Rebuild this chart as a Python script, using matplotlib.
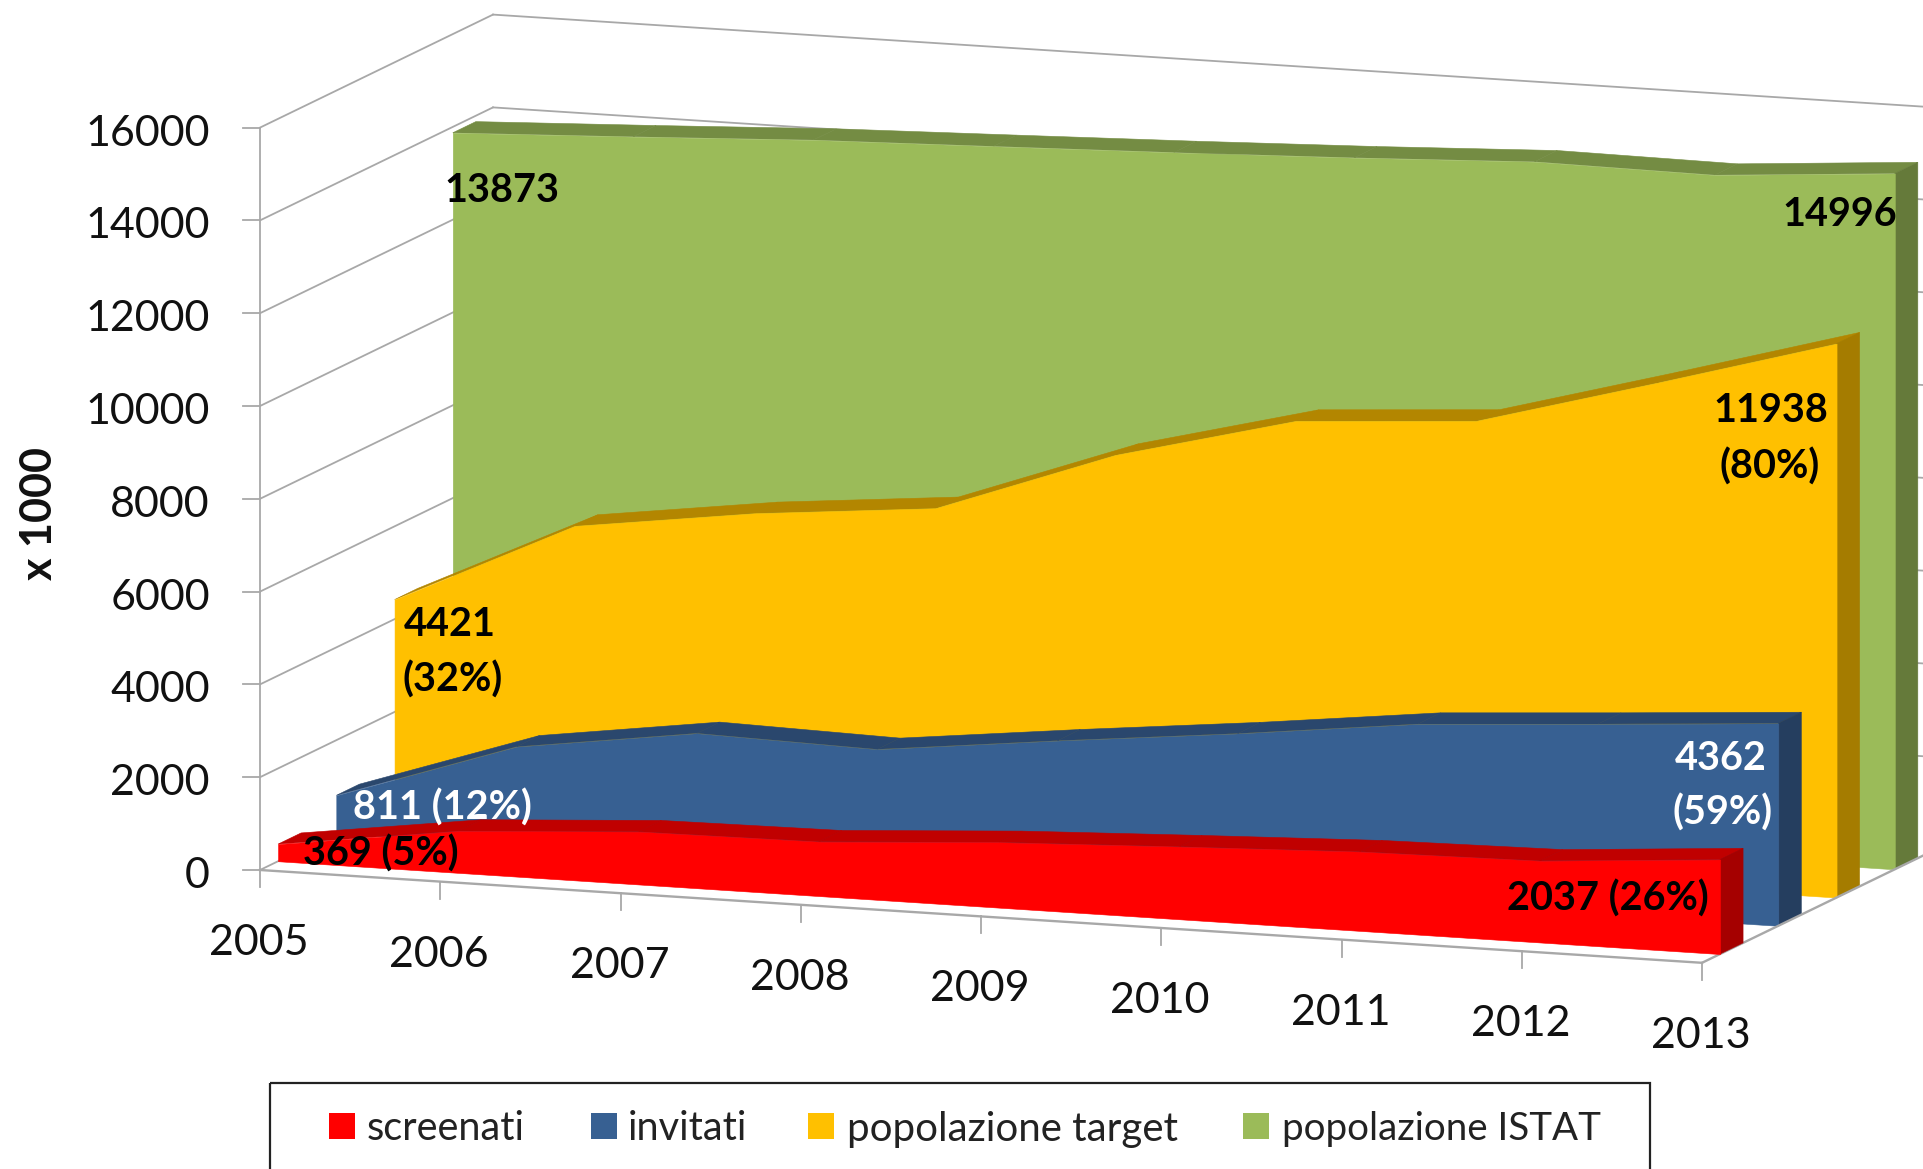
import numpy as np
import matplotlib
matplotlib.use("Agg")
import matplotlib.pyplot as plt
from matplotlib.patches import Rectangle
from matplotlib.transforms import Affine2D

# ---------- data ----------
years = [2005, 2006, 2007, 2008, 2009, 2010, 2011, 2012, 2013]
screenati = [369, 903, 1138, 1172, 1409, 1565, 1707, 1760, 2037]
invitati = [811, 2110, 2649, 2554, 2990, 3394, 3849, 4099, 4362]
pop_target = [4421, 6259, 6782, 7140, 8539, 9521, 9772, 10840, 11938]
pop_istat = [13873, 14039, 14218, 14332, 14450, 14586, 14750, 14713, 14996]
series_names = ["screenati", "invitati", "popolazione target", "popolazione ISTAT"]
y_ticks = [0, 2000, 4000, 6000, 8000, 10000, 12000, 14000, 16000]

face_colors = ["#FF0000", "#376092", "#FFC000", "#9BBB59"]
top_colors = ["#C00000", "#2A476D", "#B38600", "#748C43"]
side_colors = ["#A50000", "#253E5F", "#A57C00", "#657A3A"]
GRID = "#A8A8A8"
FONT = "Lato"

# ---------- oblique projection of the 3-D chart box ----------
ORIGIN = np.array([260.0, 870.0])      # pixel of (2005, 0, depth 0)
E_YEAR = np.array([180.25, 11.6])      # per year
E_VALUE = np.array([0.0, -0.0464])     # per unit of value
E_DEPTH = np.array([58.25, -28.25])    # per series row
FRONT, BACK = 0.31, 0.705              # ribbon extent inside its row


def project(x, v, d):
    x, v = np.asarray(x, float), np.asarray(v, float)
    p = ORIGIN + np.outer(x, E_YEAR) + np.outer(v, E_VALUE) + d * E_DEPTH
    return p[:, 0], p[:, 1]


fig = plt.figure(figsize=(19.23, 11.69), dpi=100)
ax = fig.add_axes([0, 0, 1, 1])


def plane(d):
    """Maps (year index, value) on depth plane d to the axes."""
    m = np.array([[E_YEAR[0], 0, ORIGIN[0] + d * E_DEPTH[0]],
                  [E_YEAR[1], E_VALUE[1], ORIGIN[1] + d * E_DEPTH[1]],
                  [0, 0, 1]])
    return Affine2D(m) + ax.transData


n = len(years)
idx = np.arange(n)
lw_grid = 1.3
z = 1
# walls and floor
for t in y_ticks:
    xs, ys = project([0, 0], [t, t], 0)
    bx, by = project([0, 0], [t, t], 4)
    ax.plot([xs[0], bx[0]], [ys[0], by[0]], color=GRID, lw=lw_grid, zorder=z)
    ex, ey = project([0, n - 1], [t, t], 4)
    if t > 0:
        ax.plot(ex, ey, color=GRID, lw=lw_grid, zorder=z)
    ax.plot([xs[0] - 17, xs[0]], [ys[0], ys[0]], color=GRID, lw=lw_grid, zorder=z)
    ax.text(210, ys[0] + 6, str(t), ha="right", va="center", fontsize=31,
            family=FONT, color="#111111")
xs, ys = project([0, 0], [0, 16000], 0)
ax.plot(xs, ys, color=GRID, lw=lw_grid, zorder=z)
xs, ys = project([0, n - 1], [0, 0], 0)
ax.plot(xs, ys, color=GRID, lw=lw_grid + 0.4, zorder=z + 8)
xs, ys = project([n - 1, n - 1], [0, 0], 0)
bx, by = project([n - 1, n - 1], [0, 0], 4)
ax.plot([xs[0], bx[0]], [ys[0], by[0]], color=GRID, lw=lw_grid + 0.4, zorder=z + 8)
for i, yr in enumerate(years):
    xs, ys = project([i], [0], 0)
    ax.plot([xs[0], xs[0]], [ys[0], ys[0] + 17], color=GRID, lw=lw_grid, zorder=z)
    ax.text(xs[0] - 1, ys[0] + 73, str(yr), ha="center", va="center", fontsize=31,
            family=FONT, color="#111111")

# ribbons, back row first
rows = [screenati, invitati, pop_target, pop_istat]
for k in [3, 2, 1, 0]:
    vals = np.array(rows[k], float)
    zo = 10 - k * 2
    df, db = k + FRONT, k + BACK
    # top surface
    for i in range(n - 1):
        fx, fy = project(idx[i:i + 2], vals[i:i + 2], df)
        gx, gy = project(idx[i:i + 2], vals[i:i + 2], db)
        ax.fill([fx[0], fx[1], gx[1], gx[0]], [fy[0], fy[1], gy[1], gy[0]],
                color=top_colors[k], lw=0.4, zorder=zo)
    # right side
    fx, fy = project([n - 1, n - 1], [0, vals[-1]], df)
    gx, gy = project([n - 1, n - 1], [0, vals[-1]], db)
    ax.fill([fx[0], fx[1], gx[1], gx[0]], [fy[0], fy[1], gy[1], gy[0]],
            color=side_colors[k], lw=0.4, zorder=zo)
    # front face
    ax.fill_between(idx, 0, vals, transform=plane(df), color=face_colors[k],
                    lw=0.4, zorder=zo + 0.5)

# data labels
labels = [
    ("13873", 502, 190, "black"), ("14996", 1840, 215, "black"),
    ("11938", 1771, 410, "black"), ("(80%)", 1770, 467, "black"),
    ("4421", 450, 624, "black"), ("(32%)", 453, 680, "black"),
    ("811 (12%)", 442, 808, "white"), ("369 (5%)", 381, 854, "black"),
    ("4362", 1721, 759, "white"), ("(59%)", 1723, 813, "white"),
    ("2037 (26%)", 1608, 899, "black"),
]
for s, lx, ly, c in labels:
    ax.text(lx, ly, s, ha="center", va="center", fontsize=28.5, fontweight="bold",
            family=FONT, color=c, zorder=30)

ax.text(39, 513, "x 1000", rotation=90, ha="center", va="center", fontsize=31,
        fontweight="bold", family=FONT, color="#111111")

# legend box runs past the bottom of the picture
ax.add_patch(Rectangle((270, 1083), 1380, 200, fill=False, ec="#222222", lw=1.6, zorder=20))
swatch_x = [329, 591, 808, 1243]
text_x = [367, 628, 847, 1282]
legend_size = [28.6, 28.6, 29, 27.7]
for name, col, sx, tx, fs in zip(series_names, face_colors, swatch_x, text_x, legend_size):
    ax.add_patch(Rectangle((sx, 1113), 26, 26, fc=col, ec="none", zorder=21))
    ax.text(tx, 1129, name, ha="left", va="center", fontsize=fs, family=FONT,
            color="#222222", zorder=21)

ax.set_xlim(0, 1923)
ax.set_ylim(1169, 0)
ax.axis("off")
fig.savefig("out.png", dpi=100)
